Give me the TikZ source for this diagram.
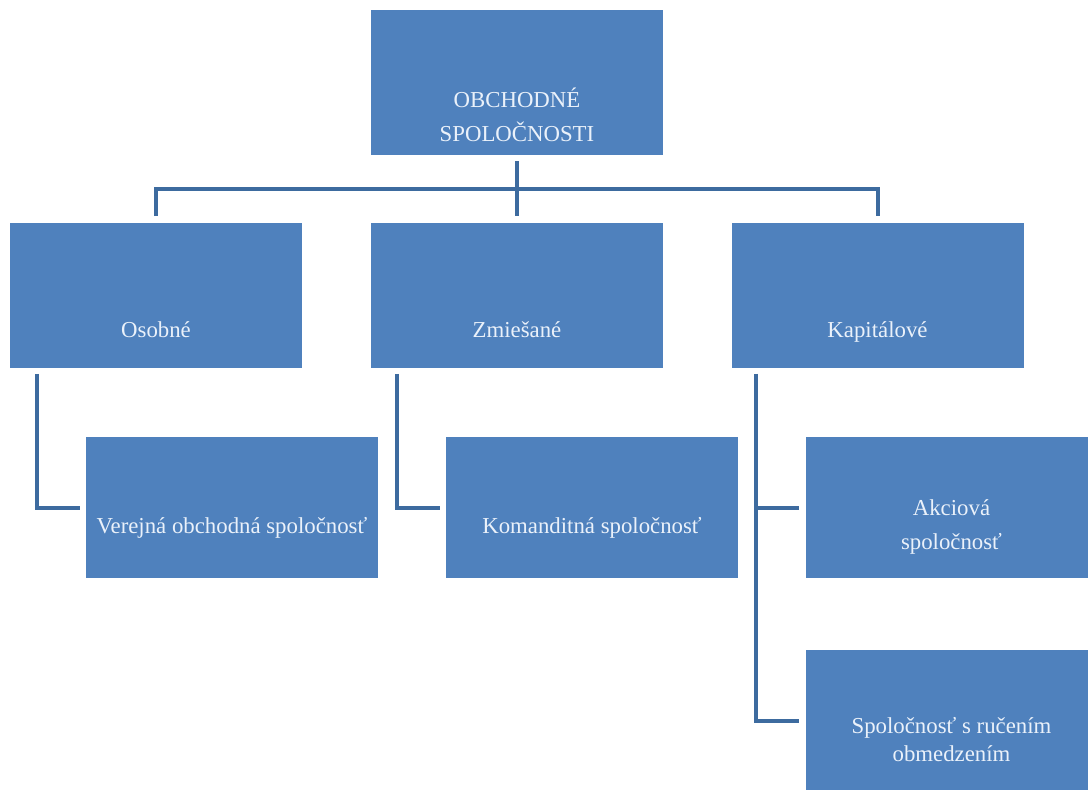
\documentclass[tikz,border=0pt]{standalone}
\usepackage{fontspec}
\setmainfont{Liberation Serif}
\usepackage{tikz}
\usetikzlibrary{positioning, calc}
\definecolor{boxblue}{HTML}{4F81BD}
\definecolor{linkblue}{HTML}{3D6B9F}
\definecolor{boxtext}{HTML}{EAF1FA}
\tikzset{
	orgbox/.style={fill=boxblue, minimum width=146pt, minimum height=72.5pt, inner sep=0pt,
		font=\fontsize{11.4}{13.6}\selectfont\color{boxtext}}
}
\tikzset{
	subbox/.style={orgbox, minimum height=70.5pt}
}
\tikzset{
	link/.style={draw=linkblue, line width=2pt}
}
\newcommand{\lowtxt}[2]{\raisebox{-#1}[0pt][0pt]{\begin{tabular}{@{}c@{}}#2\end{tabular}}}

\begin{document}
\begin{tikzpicture}[x=0.5pt, y=-0.5pt]
      \useasboundingbox (0,0) rectangle (1088,789);
      \clip (0,0) rectangle (1088,789);
      % boxes
      \node[orgbox] (root) at (517,82.5) {\lowtxt{21pt}{OBCHODNÉ\\[3pt]SPOLOČNOSTI}};
      \node[orgbox] (osobne) at (156,295) {\lowtxt{21.5pt}{Osobné}};
      \node[orgbox] (zmiesane) at (517,295) {\lowtxt{21.5pt}{Zmiešané}};
      \node[orgbox] (kapitalove) at (877.5,295) {\lowtxt{21.5pt}{Kapitálové}};
      \node[subbox] (vos) at (232,507.5) {\lowtxt{13pt}{Verejná obchodná spoločnosť}};
      \node[subbox] (ks) at (592,507.5) {\lowtxt{13pt}{Komanditná spoločnosť}};
      \node[subbox] (akciova) at (951.5,507.5) {\lowtxt{12.5pt}{Akciová\\[3pt]spoločnosť}};
      \node[subbox] (sro) at (951.5,720.5) {\lowtxt{13.5pt}{Spoločnosť s ručením\\obmedzením}};
      % connectors
      \coordinate (bus) at ($(root.south)!0.5!(zmiesane.north)$);
      \draw[link] ([yshift=-3pt]root.south) -- ([yshift=3pt]zmiesane.north);
      \draw[link] ([yshift=3pt]osobne.north) |- (bus) -| ([yshift=3pt]kapitalove.north);
      \draw[link] ([xshift=13.5pt,yshift=-3pt]osobne.south west) |- ([xshift=-3pt]vos.west);
      \draw[link] ([xshift=13pt,yshift=-3pt]zmiesane.south west) |- ([xshift=-3pt]ks.west);
      \draw[link] ([xshift=12.5pt,yshift=-3pt]kapitalove.south west) |- ([xshift=-3pt]akciova.west);
      \draw[link] ([xshift=12.5pt,yshift=-3pt]kapitalove.south west) |- ([xshift=-3pt]sro.west);
    \end{tikzpicture}
\end{document}
